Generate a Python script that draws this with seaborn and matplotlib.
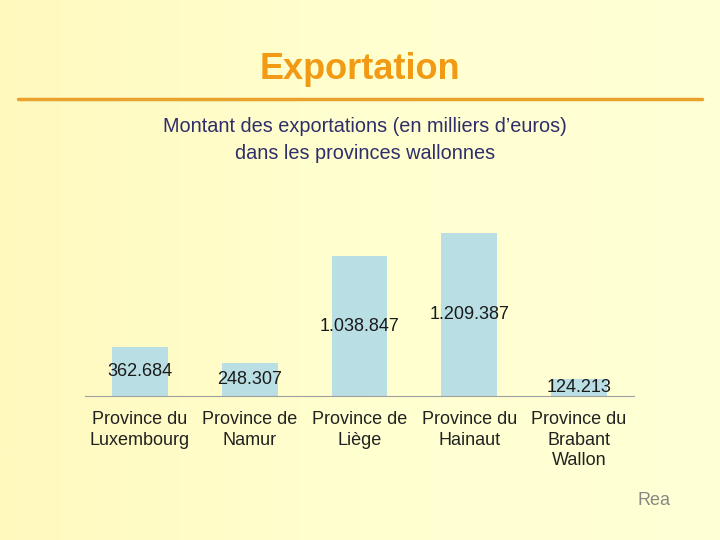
import numpy as np
import pandas as pd
import matplotlib.pyplot as plt
import seaborn as sns
from matplotlib.colors import LinearSegmentedColormap

# data
provinces = ["Province du\nLuxembourg", "Province de\nNamur", "Province de\nLiège",
             "Province du\nHainaut", "Province du\nBrabant\nWallon"]
exports = [362684, 248307, 1038847, 1209387, 124213]

df = pd.DataFrame({"province": provinces, "exports": exports})

sns.set_style("white")
plt.rcParams["font.family"] = ["Liberation Sans", "DejaVu Sans"]

fig = plt.figure(figsize=(7.2, 5.4), dpi=100)

# pale yellow background with a slight gradient
bg = fig.add_axes([0, 0, 1, 1], zorder=-10)
grad = np.linspace(0, 1, 256).reshape(1, -1)
cmap = LinearSegmentedColormap.from_list("bg", ["#FFF9BE", "#FFFFD0", "#FFFFD6"])
bg.imshow(grad, aspect="auto", cmap=cmap, extent=[0, 1, 0, 1])
bg.set_axis_off()

# title and separator
fig.text(0.5, 0.872, "Exportation", ha="center", va="center",
         fontsize=26, fontweight="bold", color="#F29A14")
bg.plot([18 / 720, 702 / 720], [1 - 99 / 540, 1 - 99 / 540], color="#E9A22C",
        lw=2.5, transform=bg.transAxes)
fig.text(0.507, 1 - 140 / 540,
         "Montant des exportations (en milliers d’euros)\ndans les provinces wallonnes",
         ha="center", va="center", fontsize=14.3, color="#2E2E6A", linespacing=1.5)

# bar chart
ax = fig.add_axes([85 / 720, 1 - 396 / 540, 549 / 720, 175 / 540])
ax.patch.set_alpha(0)
sns.barplot(data=df, x="province", y="exports", color="#B9DEE3", width=0.51,
            saturation=1, linewidth=0, ax=ax)
ax.set_ylim(0, 1.3e6)
ax.set_xlim(-0.5, 4.5)
ax.set_xlabel("")
ax.set_ylabel("")
ax.set_yticks([])
sns.despine(ax=ax, left=True)
ax.spines["bottom"].set_color("#A0A0A0")
ax.tick_params(axis="x", length=0, pad=11, labelsize=13, labelcolor="#222222")
for lab in ax.get_xticklabels():
    lab.set_linespacing(1.25)

ax.bar_label(ax.containers[0], labels=[f"{v:,}".replace(",", ".") for v in exports],
             label_type="center", fontsize=13, color="#1A1A1A")

# small logo text
fig.text(0.885, 0.065, "Rea", fontsize=13, color="#555566", alpha=0.7)

plt.savefig("out.png", dpi=100)
